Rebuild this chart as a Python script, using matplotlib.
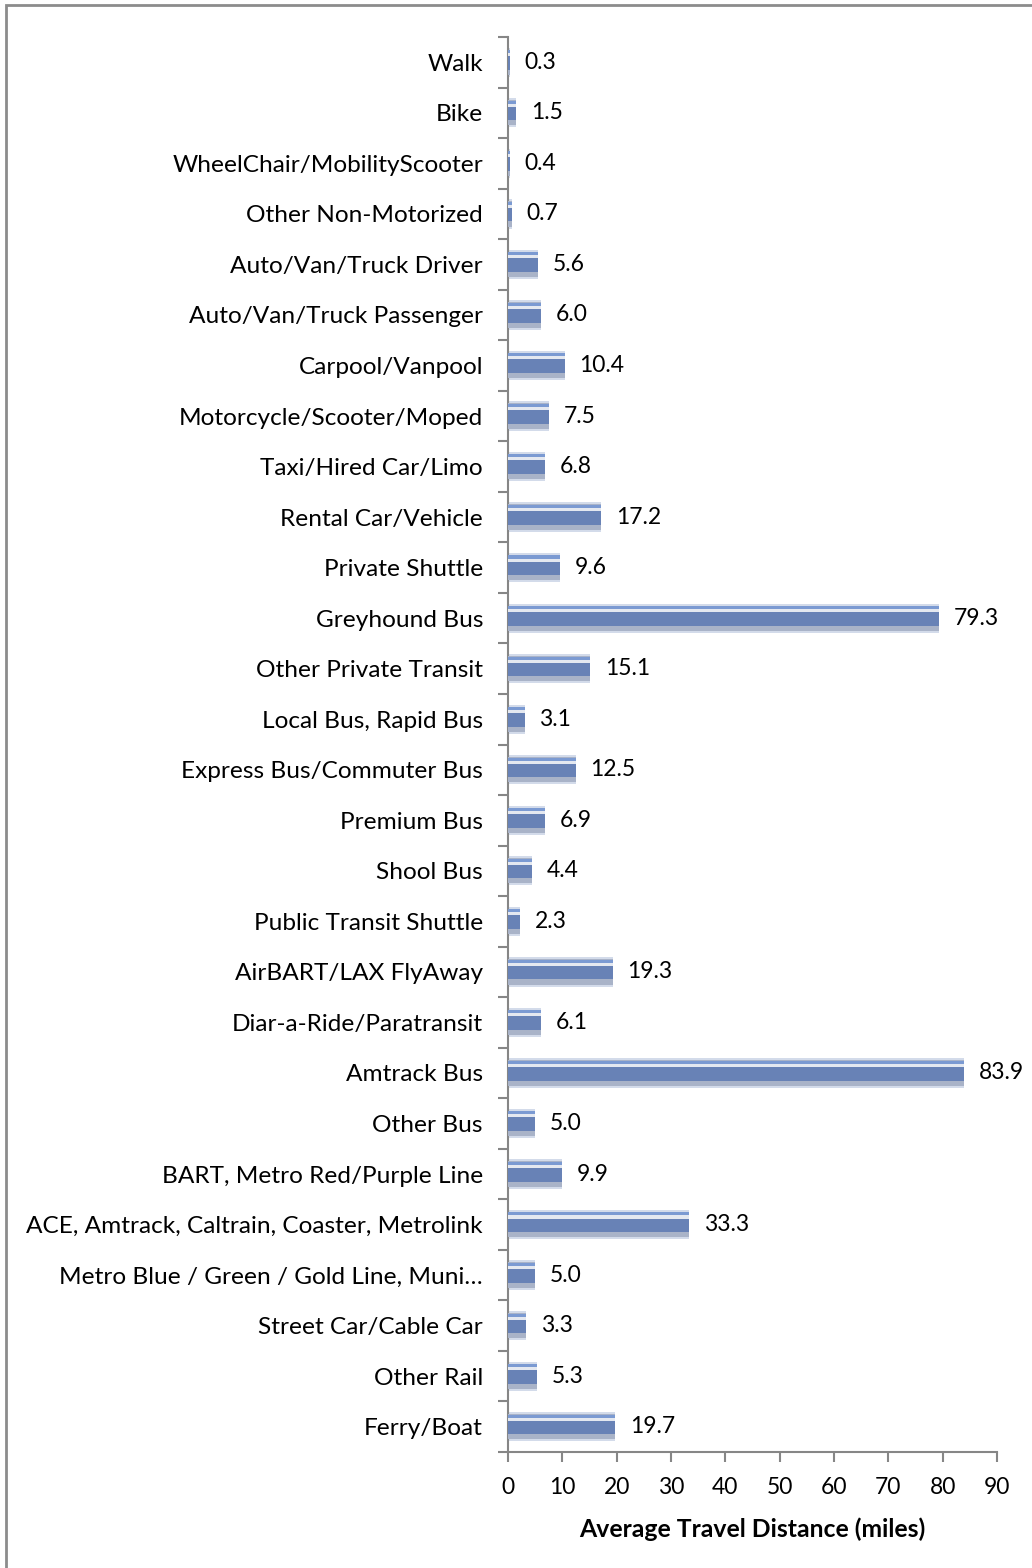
import matplotlib
matplotlib.use("Agg")
import matplotlib.pyplot as plt
from matplotlib.patches import Rectangle

categories = [
    "Walk", "Bike", "WheelChair/MobilityScooter", "Other Non-Motorized",
    "Auto/Van/Truck Driver", "Auto/Van/Truck Passenger", "Carpool/Vanpool",
    "Motorcycle/Scooter/Moped", "Taxi/Hired Car/Limo", "Rental Car/Vehicle",
    "Private Shuttle", "Greyhound Bus", "Other Private Transit",
    "Local Bus, Rapid Bus", "Express Bus/Commuter Bus", "Premium Bus",
    "Shool Bus", "Public Transit Shuttle", "AirBART/LAX FlyAway",
    "Diar-a-Ride/Paratransit", "Amtrack Bus", "Other Bus",
    "BART, Metro Red/Purple Line", "ACE, Amtrack, Caltrain, Coaster, Metrolink",
    "Metro Blue / Green / Gold Line, Muni\u2026", "Street Car/Cable Car",
    "Other Rail", "Ferry/Boat",
]
values = [0.3, 1.5, 0.4, 0.7, 5.6, 6.0, 10.4, 7.5, 6.8, 17.2, 9.6, 79.3, 15.1,
          3.1, 12.5, 6.9, 4.4, 2.3, 19.3, 6.1, 83.9, 5.0, 9.9, 33.3, 5.0, 3.3,
          5.3, 19.7]
xticks = [0, 10, 20, 30, 40, 50, 60, 70, 80, 90]
xlabel = "Average Travel Distance (miles)"

plt.rcParams['font.family'] = ['Lato', 'DejaVu Sans']

W, H = 1032, 1568
fig = plt.figure(figsize=(W / 100, H / 100), dpi=100)
# outer frame
fig.patches.append(Rectangle((6 / W, -0.01), 1.1, 1 - 5 / H + 0.01,
                             transform=fig.transFigure, fill=False,
                             edgecolor='#8c8c8c', linewidth=2.0))

ax = fig.add_axes([508 / W, 1 - 1452 / H, (997 - 508) / W, (1452 - 37) / H])
n = len(categories)
ypos = list(range(n))

# layered bars to imitate the cylinder look
ax.barh(ypos, values, height=0.58, color='#d3dbea', edgecolor='none', zorder=2)
ax.barh(ypos, values, height=0.50, color='#a9b3c8', edgecolor='none', zorder=3)
ax.barh(ypos, values, height=0.30, color='#6882b6', edgecolor='none', zorder=4)
ax.barh([y - 0.21 for y in ypos], values, height=0.06, color='#7b9ad2',
        edgecolor='none', zorder=5)
ax.barh([y - 0.15 for y in ypos], values, height=0.06, color='#e4e8f0',
        edgecolor='none', zorder=5)

for y, v in zip(ypos, values):
    ax.text(v + 2.7, y, f"{v:.1f}", va='center', ha='left', fontsize=16.5,
            color='black')

ax.set_ylim(n - 0.5, -0.5)
ax.set_xlim(0, 90)
ax.set_yticks([i - 0.5 for i in range(n + 1)], minor=False)
ax.set_yticklabels([])
ax.set_yticks(ypos, minor=True)
ax.set_yticklabels(categories, minor=True, fontsize=17.6)
ax.tick_params(axis='y', which='minor', length=0, pad=18)
ax.tick_params(axis='y', which='major', length=7, width=1.5, color='#868686',
               direction='out')
ax.set_xticks(xticks)
ax.set_xticklabels([str(t) for t in xticks], fontsize=16.5)
ax.tick_params(axis='x', length=7, width=1.5, color='#868686', pad=11)
ax.set_xlabel(xlabel, fontsize=17.8, fontweight='bold', labelpad=14)

for s in ['top', 'right']:
    ax.spines[s].set_visible(False)
for s in ['left', 'bottom']:
    ax.spines[s].set_color('#868686')
    ax.spines[s].set_linewidth(1.5)

fig.savefig("out.png", dpi=100)
